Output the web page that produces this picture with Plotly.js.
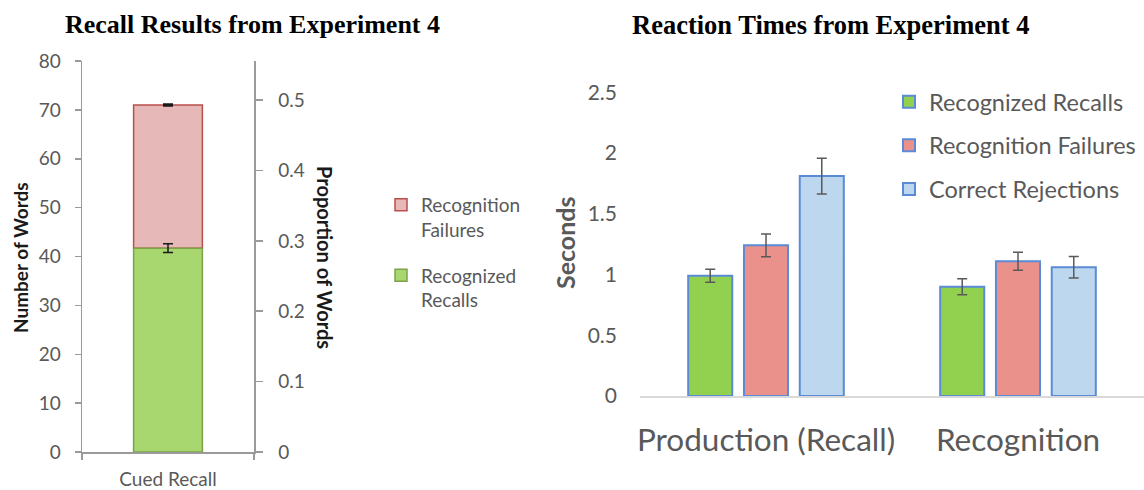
<!DOCTYPE html>
<html>
<head>
<meta charset="utf-8">
<script src="https://cdn.plot.ly/plotly-3.0.1.min.js"></script>
<style>html,body{margin:0;padding:0;background:#fff;}#chart{width:1144px;height:490px;}</style>
</head>
<body>
<div id="chart"></div>
<script>
// ---- Data: Recall results (left chart) ----
const recallCategories = ['Cued Recall'];
const recognizedRecalls = [41.7];
const recognizedRecallsErr = [0.9];
const recognitionFailures = [29.3];
const recognitionFailuresErr = [0.15];
const proportionTicks = [0, 0.1, 0.2, 0.3, 0.4, 0.5];

// ---- Data: Reaction times (right chart) ----
const rtCategories = ['Production (Recall)', 'Recognition'];
const rtRecognizedRecalls = [0.99, 0.90];
const rtRecognizedRecallsErr = [0.053, 0.066];
const rtRecognitionFailures = [1.24, 1.11];
const rtRecognitionFailuresErr = [0.093, 0.074];
const rtCorrectRejections = [1.81, 1.06];
const rtCorrectRejectionsErr = [0.147, 0.088];
const secondsTicks = [0, 0.5, 1, 1.5, 2, 2.5];

const W = 1144, H = 490;
const px = v => v / W;
const py = v => (H - v) / H;
const FONT = 'Lato, "Open Sans", sans-serif';
const SERIF = '"Liberation Serif", "Times New Roman", serif';
const GREY = '#595959';

const recognizedBase = recognizedRecalls.slice();

const traces = [
  {
    type: 'bar', name: 'Recognition<br>Failures', x: recallCategories, y: recognitionFailures,
    base: recognizedBase, xaxis: 'x', yaxis: 'y', offsetgroup: 'L', width: 0.4,
    legend: 'legend', legendgroup: 'l1',
    marker: {color: '#e6b8b7', line: {color: '#b9504c', width: 1.5}},
    error_y: {type: 'data', array: recognitionFailuresErr, color: '#1a1a1a', thickness: 2, width: 5}
  },
  {
    type: 'bar', name: 'Recognized<br>Recalls', x: recallCategories, y: recognizedRecalls,
    xaxis: 'x', yaxis: 'y', offsetgroup: 'L', width: 0.4,
    legend: 'legend', legendgroup: 'l2',
    marker: {color: '#a8d770', line: {color: '#7ea24a', width: 1.5}},
    error_y: {type: 'data', array: recognizedRecallsErr, color: '#1a1a1a', thickness: 1.5, width: 5}
  },
  {
    // anchors the secondary "Proportion of Words" axis; draws nothing
    type: 'scatter', mode: 'none', x: recallCategories, y: [0], xaxis: 'x', yaxis: 'y2',
    showlegend: false, hoverinfo: 'skip'
  },
  {
    type: 'bar', name: 'Recognized Recalls', x: rtCategories, y: rtRecognizedRecalls,
    xaxis: 'x2', yaxis: 'y3', legend: 'legend2', legendgroup: 'r1',
    marker: {color: '#92d050', line: {color: '#5b8bd6', width: 2}},
    error_y: {type: 'data', array: rtRecognizedRecallsErr, color: GREY, thickness: 1.5, width: 5}
  },
  {
    type: 'bar', name: 'Recognition Failures', x: rtCategories, y: rtRecognitionFailures,
    xaxis: 'x2', yaxis: 'y3', legend: 'legend2', legendgroup: 'r2',
    marker: {color: '#ea918b', line: {color: '#5b8bd6', width: 2}},
    error_y: {type: 'data', array: rtRecognitionFailuresErr, color: GREY, thickness: 1.5, width: 5}
  },
  {
    type: 'bar', name: 'Correct Rejections', x: rtCategories, y: rtCorrectRejections,
    xaxis: 'x2', yaxis: 'y3', legend: 'legend2', legendgroup: 'r3',
    marker: {color: '#bdd7ee', line: {color: '#5b8bd6', width: 2}},
    error_y: {type: 'data', array: rtCorrectRejectionsErr, color: GREY, thickness: 1.5, width: 5}
  }
];

const layout = {
  width: W, height: H,
  margin: {l: 0, r: 0, t: 0, b: 0, autoexpand: false},
  paper_bgcolor: '#fff', plot_bgcolor: 'rgba(0,0,0,0)',
  barmode: 'group', bargap: 0.336, bargroupgap: 0.21,
  font: {family: FONT, color: GREY},
  showlegend: true,
  xaxis: {
    domain: [px(82), px(254)], anchor: 'y', type: 'category', range: [-0.5, 0.5],
    showline: true, linecolor: '#9a9a9a', linewidth: 1.5,
    ticks: 'outside', tickson: 'boundaries', ticklen: 6, tickcolor: '#9a9a9a', tickwidth: 1.5,
    tickfont: {size: 19, family: FONT, color: GREY}, ticklabelstandoff: 10,
    showgrid: false, zeroline: false, fixedrange: true
  },
  yaxis: {
    domain: [py(452), py(61)], anchor: 'x', range: [0, 80], dtick: 10,
    showline: true, linecolor: '#9a9a9a', linewidth: 1.5,
    ticks: 'outside', ticklen: 6, tickcolor: '#9a9a9a', tickwidth: 1.5,
    tickfont: {size: 19, family: FONT, color: GREY}, ticklabelstandoff: 10,
    showgrid: false, zeroline: false
  },
  yaxis2: {
    overlaying: 'y', side: 'right', anchor: 'x', range: [0, 80 / 72 * 0.5],
    tickvals: proportionTicks, ticktext: proportionTicks.map(String),
    showline: true, linecolor: '#9a9a9a', linewidth: 1.5,
    ticks: 'outside', ticklen: 7, tickcolor: '#9a9a9a', tickwidth: 1.5,
    tickfont: {size: 19, family: FONT, color: GREY}, ticklabelstandoff: 12,
    showgrid: false, zeroline: false
  },
  xaxis2: {
    domain: [px(640), 1], anchor: 'y3', type: 'category', range: [-0.5, 1.5],
    showline: true, linecolor: '#d9d9d9', linewidth: 1.5, ticks: '',
    tickfont: {size: 31.5, family: FONT, color: GREY}, ticklabelstandoff: 16,
    showgrid: false, zeroline: false
  },
  yaxis3: {
    domain: [py(396), py(92.3)], anchor: 'x2', range: [0, 2.5],
    tickvals: secondsTicks, ticktext: secondsTicks.map(String),
    showline: false, ticks: '', showgrid: false, zeroline: false,
    tickfont: {size: 21, family: FONT, color: GREY}, ticklabelstandoff: 22
  },
  legend: {
    x: px(381), y: py(186), xanchor: 'left', yanchor: 'top',
    bgcolor: 'rgba(0,0,0,0)', borderwidth: 0, valign: 'top',
    traceorder: 'grouped', tracegroupgap: 18,
    font: {size: 19, family: FONT, color: GREY}
  },
  legend2: {
    x: px(889), y: py(80), xanchor: 'left', yanchor: 'top',
    bgcolor: 'rgba(0,0,0,0)', borderwidth: 0,
    traceorder: 'grouped', tracegroupgap: 10,
    font: {size: 23.5, family: FONT, color: GREY}
  },
  annotations: [
    {text: '<b>Recall Results from Experiment 4</b>', xref: 'paper', yref: 'paper',
     x: px(252), y: py(25), xanchor: 'center', yanchor: 'middle', showarrow: false,
     font: {family: SERIF, size: 26, color: '#000'}},
    {text: '<b>Reaction Times from Experiment 4</b>', xref: 'paper', yref: 'paper',
     x: px(830), y: py(25), xanchor: 'center', yanchor: 'middle', showarrow: false,
     font: {family: SERIF, size: 26.5, color: '#000'}},
    {text: '<b>Number of Words</b>', xref: 'paper', yref: 'paper', textangle: -90,
     x: px(20), y: py(258), xanchor: 'center', yanchor: 'middle', showarrow: false,
     font: {family: FONT, size: 19, color: '#1a1a1a'}},
    {text: '<b>Proportion of Words</b>', xref: 'paper', yref: 'paper', textangle: 90,
     x: px(325), y: py(257), xanchor: 'center', yanchor: 'middle', showarrow: false,
     font: {family: FONT, size: 20, color: '#1a1a1a'}},
    {text: '<b>Seconds</b>', xref: 'paper', yref: 'paper', textangle: -90,
     x: px(565), y: py(243), xanchor: 'center', yanchor: 'middle', showarrow: false,
     font: {family: FONT, size: 25, color: GREY}}
  ]
};

Plotly.newPlot('chart', traces, layout, {displayModeBar: false, staticPlot: true});
</script>
</body>
</html>
